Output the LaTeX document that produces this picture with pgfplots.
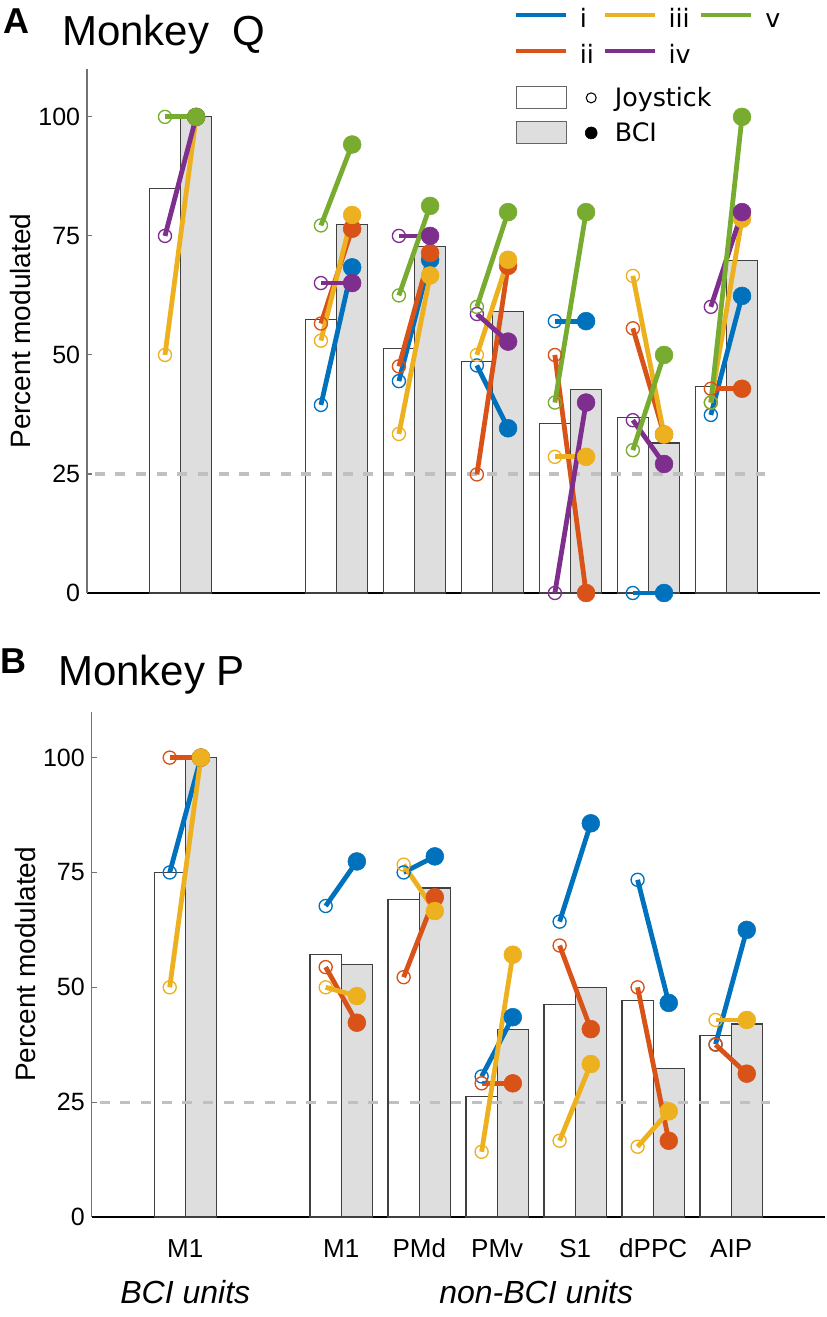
\documentclass[border=0pt]{standalone}
\usepackage{pgfplots}
\pgfplotsset{compat=1.18}
\usepackage{pgfplotstable}
\usepackage{fontspec}
\setmainfont{Liberation Sans}
\newfontfamily\legfont{DejaVu Sans}

\definecolor{cI}{HTML}{0072BD}
\definecolor{cII}{HTML}{D95319}
\definecolor{cIII}{HTML}{EDB120}
\definecolor{cIV}{HTML}{7E2F8E}
\definecolor{cV}{HTML}{77AC30}
\definecolor{bcigray}{HTML}{DEDEDE}
\definecolor{dashgray}{HTML}{C0C0C0}

% ---------- Monkey Q ----------
\pgfplotstableread{
g j b
1 85.0 100
3 57.4 77.4
4 51.4 72.7
5 48.7 59.2
6 35.6 42.7
7 36.8 31.5
8 43.3 69.9
}\QBars
\pgfplotstableread{
g j b
3 39.5 68.4
4 44.5 70.0
5 47.8 34.6
6 57.1 57.1
7 0 0
8 37.4 62.4
}\QI
\pgfplotstableread{
g j b
3 56.6 76.5
4 47.6 71.4
5 24.9 68.7
6 50.0 0
7 55.6 33.3
8 42.9 42.9
}\QII
\pgfplotstableread{
g j b
1 50 100
3 53.0 79.4
4 33.4 66.7
5 50.0 70.0
6 28.6 28.6
7 66.6 33.3
8 40.0 78.6
}\QIII
\pgfplotstableread{
g j b
1 75 100
3 65.1 65.1
4 75.0 75.0
5 58.6 52.8
6 0 40.0
7 36.3 27.1
8 60.1 80.0
}\QIV
\pgfplotstableread{
g j b
1 100 100
3 77.2 94.2
4 62.5 81.3
5 60.1 80.0
6 40.0 80.0
7 30.0 50.0
8 40.0 100
}\QV

% ---------- Monkey P ----------
\pgfplotstableread{
g j b
1 75.0 100
3 57.1 54.9
4 69.1 71.6
5 26.2 40.9
6 46.2 49.9
7 47.1 32.3
8 39.5 42.0
}\PBars
\pgfplotstableread{
g j b
1 75 100
3 67.7 77.4
4 75.0 78.5
5 30.6 43.5
6 64.3 85.7
7 73.4 46.6
8 37.6 62.5
}\PI
\pgfplotstableread{
g j b
1 100 100
3 54.4 42.3
4 52.2 69.6
5 29.1 29.1
6 59.1 40.9
7 50.0 16.6
8 37.5 31.2
}\PII
\pgfplotstableread{
g j b
1 50 100
3 50.0 48.1
4 76.7 66.6
5 14.2 57.1
6 16.6 33.3
7 15.3 23.0
8 42.9 42.9
}\PIII

\newcommand{\bars}[1]{%
  \addplot[forget plot, ybar, bar width=0.4, bar shift=0pt, fill=white, draw=black!75, line width=0.9pt]
    table[x expr=\thisrow{g}-0.2, y=j] {#1};
  \addplot[forget plot, ybar, bar width=0.4, bar shift=0pt, fill=bcigray, draw=black!75, line width=0.9pt]
    table[x expr=\thisrow{g}+0.2, y=b] {#1};
  \addplot[forget plot, draw=dashgray, line width=2.5pt, dash pattern=on 7.5pt off 8pt] coordinates {(-0.1,25) (8.5,25)};
}
\newcommand{\session}[2]{%
  \addplot[forget plot, draw=#1, line width=3.6pt, mark=none,
    quiver={u=0.4, v={\thisrow{b}-\thisrow{j}}}]
    table[x expr=\thisrow{g}-0.2, y=j] {#2};
  \addplot[forget plot, only marks, mark=o, mark size=4.9pt, mark options={draw=#1, line width=1pt}]
    table[x expr=\thisrow{g}-0.2, y=j] {#2};
  \addplot[forget plot, only marks, mark=*, mark size=6.7pt, mark options={draw=#1, fill=#1}]
    table[x expr=\thisrow{g}+0.2, y=b] {#2};
}

\pgfplotsset{
  panel/.style={
    scale only axis, width=549.75pt,
    xmin=-0.2, xmax=9.2, ymin=0, ymax=110,
    axis x line*=bottom, axis y line*=left,
    x axis line style={draw=black, line width=0.9pt},
    y axis line style={draw=black!55, line width=0.9pt},
    ytick={0,25,50,75,100},
    tick align=inside, major tick length=4pt,
    ytick style={draw=black!55, line width=0.8pt},
    xtick style={draw=none},
    clip=false,
    /pgf/number format/assume math mode=true,
    yticklabel style={font=\fontsize{18.75}{20}\selectfont, inner xsep=0pt, xshift=-5pt},
    xticklabel style={font=\fontsize{19.5}{21}\selectfont, anchor=base, yshift=-30pt},
    ylabel={Percent modulated},
    every axis y label/.style={at={(axis description cs:0,0.5)}, xshift=-50pt, rotate=90, anchor=center, font=\fontsize{21}{23}\selectfont},
    legend cell align=left,
  }
}

\begin{document}
\begin{tikzpicture}
\path[use as bounding box] (0,0) rectangle (619.5pt,-987.75pt);
\node[anchor=base west, inner sep=0pt, font=\bfseries\fontsize{27}{30}\selectfont] at (2.25pt,-24.75pt) {A};
\node[anchor=base west, inner sep=0pt, font=\fontsize{31.5}{34}\selectfont] at (46.5pt,-33.75pt) {Monkey\ \ Q};
\node[anchor=base west, inner sep=0pt, font=\bfseries\fontsize{27}{30}\selectfont] at (0.5pt,-504.75pt) {B};
\node[anchor=base west, inner sep=0pt, font=\fontsize{31.5}{34}\selectfont] at (43.5pt,-513.75pt) {Monkey P};

% ---------------- Panel A ----------------
\begin{axis}[panel, at={(65.25pt,-444.75pt)}, anchor=south west, height=392.8pt,
  xtick=\empty,
  legend columns=3,
  legend style={at={(0.582,1.115)}, anchor=north west, draw=none, fill=none, inner sep=0pt,
    font=\legfont\fontsize{19}{22}\selectfont, row sep=9pt,
    nodes={inner sep=0pt, text height=14pt, text depth=4pt},
    /tikz/every odd column/.append style={column sep=9pt},
    /tikz/every even column/.append style={column sep=6.5pt}},
  legend image code/.code={\draw[line width=3pt,#1] (0pt,4.5pt) -- (37.5pt,4.5pt);},
]
\bars{\QBars}
\session{cI}{\QI}
\session{cII}{\QII}
\session{cIII}{\QIII}
\session{cIV}{\QIV}
\session{cV}{\QV}
\addlegendimage{draw=cI}\addlegendentry{i}
\addlegendimage{draw=cIII}\addlegendentry{iii}
\addlegendimage{draw=cV}\addlegendentry{v}
\addlegendimage{draw=cII}\addlegendentry{ii}
\addlegendimage{draw=cIV}\addlegendentry{iv}
\end{axis}

% ---------------- Panel B ----------------
\begin{axis}[panel, at={(68.8pt,-912.75pt)}, anchor=south west, height=379pt,
  xtick={1,3,4,5,6,7,8},
  xticklabels={M1,M1,PMd,PMv,S1,dPPC,AIP},
  legend style={at={(0.578,2.238)}, anchor=north west, draw=none, fill=none, inner sep=0pt,
    font=\legfont\fontsize{19}{22}\selectfont, row sep=9pt,
    nodes={inner sep=0pt},
    /tikz/every odd column/.append style={column sep=13pt}},
]
\bars{\PBars}
\session{cI}{\PI}
\session{cII}{\PII}
\session{cIII}{\PIII}
\node[anchor=base, font=\itshape\fontsize{24}{26}\selectfont] at (axis cs:1,0) [yshift=-64.5pt] {BCI units};
\node[anchor=base, font=\itshape\fontsize{24}{26}\selectfont] at (axis cs:5.5,0) [yshift=-64.5pt] {non-BCI units};
\addlegendimage{legend image code/.code={\draw[draw=black!60, line width=0.8pt, fill=white] (0pt,-8.25pt) rectangle (37.5pt,8.25pt); \draw[line width=0.8pt] (56.25pt,0pt) circle (3.75pt);}}
\addlegendentry{Joystick}
\addlegendimage{legend image code/.code={\draw[draw=black!60, line width=0.8pt, fill=bcigray] (0pt,-8.25pt) rectangle (37.5pt,8.25pt); \fill (56.25pt,0pt) circle (4.5pt);}}
\addlegendentry{BCI}
\end{axis}
\end{tikzpicture}
\end{document}
